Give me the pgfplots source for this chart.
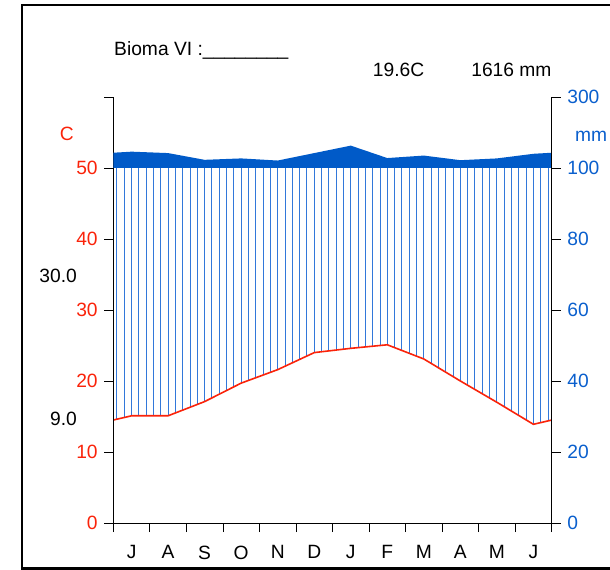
\documentclass[border=0pt]{standalone}
\usepackage{pgfplots}
\pgfplotsset{compat=1.18}
\usepackage{pgfplotstable}
\usetikzlibrary{patterns}
\usepackage{fontspec}
\setmainfont{Liberation Sans}
\definecolor{tred}{RGB}{250,35,10}
\definecolor{pblue}{RGB}{0,90,200}
\definecolor{hblue}{RGB}{50,120,218}
\definecolor{lblue}{RGB}{10,95,205}
\newcommand{\bigf}{\fontsize{19.3}{23}\selectfont}
\pgfdeclarepatternformonly{vhatch}{\pgfpoint{-3.65333bp}{0bp}}{\pgfpoint{3.65333bp}{1bp}}{\pgfpoint{7.30667bp}{1bp}}{%
  \pgfsetlinewidth{0.9bp}%
  \pgfpathmoveto{\pgfpoint{0bp}{-1bp}}%
  \pgfpathlineto{\pgfpoint{0bp}{2bp}}%
  \pgfusepath{stroke}}
% mean monthly temperature (deg C), months centred at 0.5 ... 11.5, edges at 0 and 12
\pgfplotstableread{
x t
0 14.5
0.5 15.1
1.5 15.1
2.5 17.1
3.5 19.7
4.5 21.6
5.5 24.0
6.5 24.6
7.5 25.1
8.5 23.1
9.5 20.0
10.5 17.0
11.5 13.9
12 14.5
}\temptable
% monthly precipitation (mm)
\pgfplotstableread{
x p
0 143
0.5 146
1.5 142
2.5 123
3.5 127
4.5 121
5.5 142
6.5 163
7.5 128
8.5 135
9.5 122
10.5 127
11.5 140
12 143
}\preciptable
\begin{document}
\bigf
\begin{tikzpicture}
\useasboundingbox (0bp,0bp) rectangle (610bp,570bp);
\draw[line width=2bp] (612bp,565.3bp) -- (21.5bp,565.3bp) -- (21.5bp,1.5bp) -- (612bp,1.5bp);
% temperature axis (left)
\begin{axis}[
  at={(113.3bp,47bp)}, anchor=south west, scale only axis,
  width=438.4bp, height=426bp,
  xmin=0, xmax=12, ymin=0, ymax=60,
  axis on top,
  axis x line*=bottom, axis y line*=left,
  axis line style={black, line width=0.8bp},
  tick align=outside,
  major tick length=9bp,
  tick style={black, line width=0.8bp},
  tick label style={font=\bigf},
  xtick={0,...,12}, xticklabels={},
  extra x ticks={0.5,1.5,...,11.5},
  extra x tick labels={J,A,S,O,N,D,J,F,M,A,M,J},
  extra x tick style={major tick length=0pt},
  xticklabel style={yshift=-16bp},
  ytick={0,10,...,60},
  yticklabels={0,10,20,30,40,50,{}},
  yticklabel style={text=tred},
]
\addplot[draw=none, pattern=vhatch, pattern color=hblue] coordinates {(0,50) (12,50)} \closedcycle;
\addplot[draw=none, fill=white] table[x=x,y=t]{\temptable} \closedcycle;
\addplot[tred, line width=1.6bp, line join=round] table[x=x,y=t]{\temptable};
\end{axis}
% precipitation strip above 100 mm (100 ... 300 mm)
\begin{axis}[
  at={(113.3bp,402bp)}, anchor=south west, scale only axis,
  width=438.4bp, height=71bp,
  xmin=0, xmax=12, ymin=100, ymax=300,
  hide axis,
]
\addplot[fill=pblue, draw=none] table[x=x,y=p]{\preciptable} \closedcycle;
\end{axis}
% precipitation axis (right)
\begin{axis}[
  at={(113.3bp,47bp)}, anchor=south west, scale only axis,
  width=438.4bp, height=426bp,
  xmin=0, xmax=12, ymin=0, ymax=60,
  axis y line*=right, axis x line=none,
  axis line style={black, line width=0.8bp},
  tick align=outside,
  major tick length=9bp,
  tick style={black, line width=0.8bp},
  tick label style={font=\bigf},
  ytick={0,10,...,60},
  yticklabels={0,20,40,60,80,100,300},
  yticklabel style={text=lblue},
]
\addplot[draw=none, forget plot] coordinates {(0,0) (12,60)};
\end{axis}
\node[anchor=base, text=tred] at (66.7bp,429bp) {C};
\node[anchor=base west, text=lblue, inner sep=0pt] at (575bp,428bp) {mm};
\node[anchor=base east, inner sep=0pt] at (77bp,287bp) {30.0};
\node[anchor=base east, inner sep=0pt] at (77bp,144bp) {9.0};
\node[anchor=base west, inner sep=0pt] at (114bp,514bp) {Bioma VI :\_\_\_\_\_\_\_\_};
\node[anchor=base west, inner sep=0pt] at (372.7bp,493bp) {19.6C};
\node[anchor=base east, inner sep=0pt] at (551.7bp,493bp) {1616 mm};
\end{tikzpicture}
\end{document}
